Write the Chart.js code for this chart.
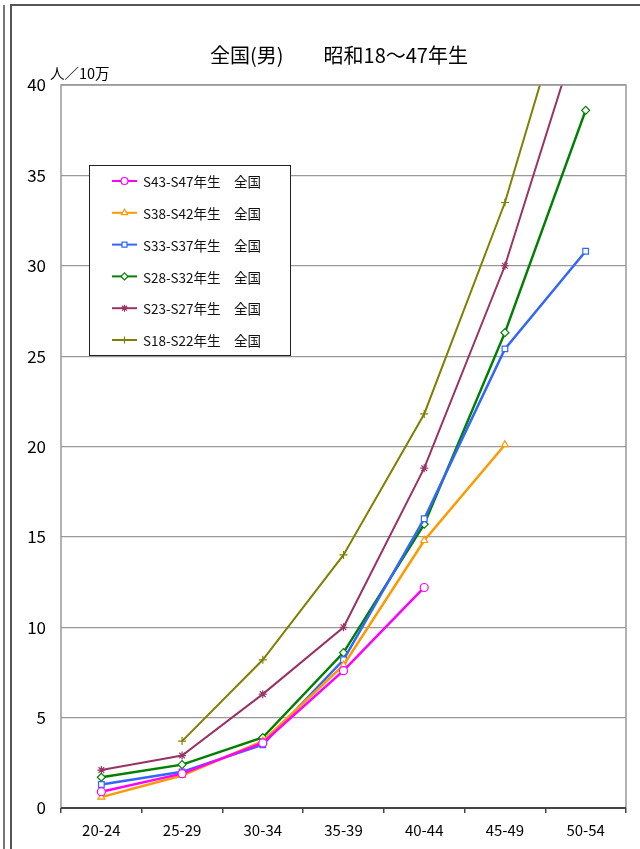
<!DOCTYPE html>
<html>
<head>
<meta charset="utf-8">
<script src="https://cdn.jsdelivr.net/npm/chart.js@4/dist/chart.umd.min.js"></script>
<style>
    body { margin: 0; background: #fff; }
    #wrap { position: relative; width: 640px; height: 849px; overflow: hidden; }
    #edge { position: absolute; left: 3px; top: 5px; width: 0; height: 860px; border-left: 2px solid #777; }
    #box { position: absolute; left: 10px; top: 4px; width: 700px; height: 900px; border: 2px solid #555; }
    canvas { position: absolute; left: 0; top: 0; }
</style>
</head>
<body>
<div id="wrap">
    <div id="edge"></div>
    <div id="box"></div>
    <canvas id="chart" width="640" height="849"></canvas>
</div>
<script>
const ageGroups = ['20-24', '25-29', '30-34', '35-39', '40-44', '45-49', '50-54'];
const seriesNames = ['S43-S47年生　全国', 'S38-S42年生　全国', 'S33-S37年生　全国', 'S28-S32年生　全国', 'S23-S27年生　全国', 'S18-S22年生　全国'];
const s43 = [0.9, 1.9, 3.6, 7.6, 12.2, null, null];
const s38 = [0.6, 1.8, 3.7, 7.9, 14.8, 20.1, null];
const s33 = [1.3, 2.0, 3.5, 8.2, 16.0, 25.4, 30.8];
const s28 = [1.7, 2.4, 3.9, 8.6, 15.7, 26.3, 38.6];
const s23 = [2.1, 2.9, 6.3, 10.0, 18.8, 30.0, 44.2];
const s18 = [null, 3.7, 8.2, 14.0, 21.8, 33.5, 48.5];
const yTicks = [0, 5, 10, 15, 20, 25, 30, 35, 40];

const title = '全国(男)　　昭和18～47年生';
const unitLabel = '人／10万';
const font = '"Noto Sans CJK JP", sans-serif';

function line(label, data, color, pointStyle, width) {
    return {
        label: label,
        data: data,
        borderColor: color,
        backgroundColor: '#fff',
        borderWidth: width,
        pointStyle: pointStyle,
        pointRadius: 4,
        pointBorderWidth: 1.2,
        pointBorderColor: color,
        pointBackgroundColor: '#fff',
        tension: 0,
        spanGaps: false,
    };
}

// legend box drawn inside the plot, Excel style
const boxLegend = {
    id: 'boxLegend',
    afterDatasetsDraw(chart) {
        const ctx = chart.ctx;
        const x0 = 89, y0 = 165, w = 201, h = 190;
        ctx.save();
        ctx.fillStyle = '#fff';
        ctx.fillRect(x0, y0, w, h);
        ctx.strokeStyle = '#222';
        ctx.lineWidth = 1;
        ctx.strokeRect(x0 + 0.5, y0 + 0.5, w, h);
        chart.data.datasets.forEach((ds, i) => {
            const y = y0 + 16 + i * 31.8;
            ctx.strokeStyle = ds.borderColor;
            ctx.lineWidth = 2;
            ctx.beginPath();
            ctx.moveTo(112, y);
            ctx.lineTo(137, y);
            ctx.stroke();
            ctx.lineWidth = 1.2;
            ctx.fillStyle = '#fff';
            Chart.helpers.drawPoint(ctx, { pointStyle: ds.pointStyle, radius: 3.5, borderWidth: 1.2 }, 124.5, y);
            ctx.fillStyle = '#111';
            ctx.font = '13.5px ' + font;
            ctx.textBaseline = 'middle';
            ctx.textAlign = 'left';
            ctx.fillText(ds.label, 143, y + 1);
        });
        ctx.restore();
    },
    afterDraw(chart) {
        const ctx = chart.ctx;
        const a = chart.chartArea;
        ctx.save();
        ctx.fillStyle = '#000';
        ctx.textAlign = 'center';
        ctx.textBaseline = 'middle';
        ctx.font = '20px ' + font;
        ctx.fillText(title, 339, 55);
        ctx.textAlign = 'left';
        ctx.font = '14.5px ' + font;
        ctx.fillText(unitLabel, 50, 73);
        // plot frame
        ctx.strokeStyle = '#999';
        ctx.lineWidth = 1.5;
        ctx.beginPath();
        ctx.moveTo(a.left, a.bottom);
        ctx.lineTo(a.left, a.top);
        ctx.lineTo(a.right, a.top);
        ctx.lineTo(a.right, a.bottom);
        ctx.stroke();
        ctx.strokeStyle = '#444';
        ctx.lineWidth = 2;
        ctx.beginPath();
        ctx.moveTo(a.left, a.bottom);
        ctx.lineTo(a.right, a.bottom);
        ctx.stroke();
        ctx.restore();
    },
};

const ctx = document.getElementById('chart').getContext('2d');
new Chart(ctx, {
    type: 'line',
    data: {
        labels: ageGroups,
        datasets: [
            line(seriesNames[0], s43, '#FF00FF', 'circle', 2.5),
            line(seriesNames[1], s38, '#FF9900', 'triangle', 2.5),
            line(seriesNames[2], s33, '#3366FF', 'rect', 2.5),
            line(seriesNames[3], s28, '#008000', 'rectRot', 2.5),
            line(seriesNames[4], s23, '#993366', 'star', 2),
            line(seriesNames[5], s18, '#808000', 'cross', 2),
        ],
    },
    options: {
        responsive: false,
        animation: false,
        layout: { padding: { top: 85, right: 14, left: 0, bottom: 0 } },
        plugins: {
            legend: { display: false },
            title: { display: false },
            tooltip: { enabled: false },
        },
        scales: {
            x: {
                offset: true,
                grid: {
                    offset: true,
                    drawOnChartArea: false,
                    color: '#444',
                    tickLength: 5,
                    lineWidth: 1.5,
                },
                border: { display: false },
                ticks: {
                    color: '#000',
                    padding: 8,
                    font: { family: font, size: 15 },
                    maxRotation: 0,
                },
                afterFit(scale) { scale.height = 41; },
            },
            y: {
                min: 0,
                max: 40,
                afterBuildTicks(scale) { scale.ticks = yTicks.map(v => ({ value: v })); },
                grid: {
                    color: '#999',
                    lineWidth: 1.2,
                    drawTicks: false,
                },
                border: { display: false },
                ticks: {
                    color: '#000',
                    padding: 15,
                    font: { family: font, size: 17 },
                },
                afterFit(scale) { scale.width = 61; },
            },
        },
    },
    plugins: [boxLegend],
});
</script>
</body>
</html>
